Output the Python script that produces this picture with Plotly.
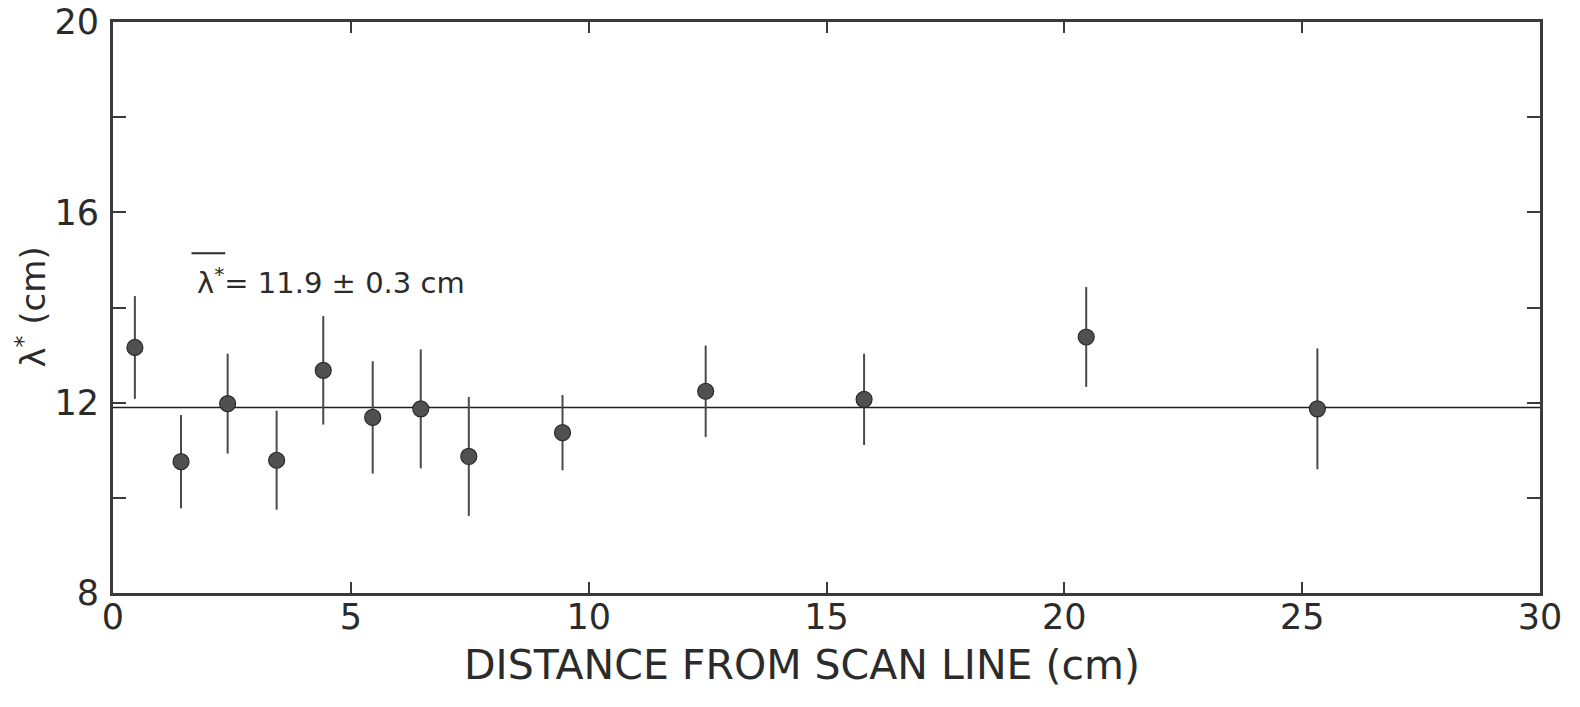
import plotly.graph_objects as go

# Measured wavelength lambda* versus distance from the scan line
distance_cm = [0.46, 1.43, 2.41, 3.44, 4.42, 5.46, 6.47, 7.48, 9.45, 12.46, 15.79, 20.46, 25.32]
lambda_cm = [13.16, 10.76, 11.98, 10.79, 12.68, 11.69, 11.87, 10.87, 11.37, 12.24, 12.07, 13.38, 11.87]
lambda_err = [1.08, 0.98, 1.05, 1.04, 1.14, 1.18, 1.25, 1.25, 0.79, 0.96, 0.96, 1.05, 1.27]

mean_lambda = 11.9
mean_err = 0.3
x_span = [0, 30]

y_tickvals = [8, 12, 16, 20]
y_minor_tickvals = [10, 14, 18]
x_tickvals = [0, 5, 10, 15, 20, 25, 30]

FONT = "DejaVu Sans"
INK = "#2b2b2b"
FRAME = "#3a3a3a"

fig = go.Figure()

# mean value line
fig.add_trace(go.Scatter(
    x=x_span, y=[mean_lambda, mean_lambda],
    mode="lines", line=dict(color="#1e1e1e", width=1.6),
    hoverinfo="skip", showlegend=False,
))

# data points with vertical error bars
fig.add_trace(go.Scatter(
    x=distance_cm, y=lambda_cm,
    mode="markers",
    marker=dict(size=16, color="#505050", line=dict(color="#2a2a2a", width=1.2)),
    error_y=dict(type="data", array=lambda_err, visible=True,
                 color="#4a4a4a", thickness=2, width=0),
    showlegend=False,
))

axis_common = dict(
    showgrid=False, zeroline=False, automargin=False,
    showline=True, linecolor=FRAME, linewidth=3,
    mirror="ticks", ticks="inside", tickcolor=FRAME, tickwidth=2,
    tickfont=dict(family=FONT, size=35, color=INK),
)

fig.update_xaxes(
    range=x_span, tickvals=x_tickvals, ticklen=11,
    ticklabelstandoff=-9, **axis_common,
)
fig.update_yaxes(
    range=[8, 20], tickvals=y_tickvals, ticklen=13,
    minor=dict(tickvals=y_minor_tickvals, ticks="inside", ticklen=13,
               tickwidth=2, tickcolor=FRAME, showgrid=False),
    ticklabelstandoff=4, **axis_common,
)

# axis titles
fig.add_annotation(
    text="DISTANCE FROM SCAN LINE (cm)",
    xref="paper", yref="paper", x=0.483, y=0, yshift=-72,
    xanchor="center", yanchor="middle", showarrow=False,
    font=dict(family=FONT, size=41, color=INK),
)
fig.add_annotation(
    text="λ<sup>*</sup> (cm)",
    xref="paper", yref="paper", x=0, y=0.5, xshift=-83,
    xanchor="center", yanchor="middle", textangle=-90, showarrow=False,
    font=dict(family=FONT, size=34, color=INK),
)

# mean value label with overbar on lambda*
fig.add_annotation(
    text=f"λ<sup>*</sup>= {mean_lambda:.1f} ± {mean_err:.1f} cm",
    xref="x", yref="y", x=1.72, y=14.55,
    xanchor="left", yanchor="middle", showarrow=False,
    font=dict(family=FONT, size=29, color=INK),
)
fig.add_shape(
    type="line", xref="x", yref="y",
    x0=1.65, x1=2.36, y0=15.14, y1=15.14,
    line=dict(color=INK, width=2),
)

fig.update_layout(
    width=1580, height=707,
    margin=dict(l=113, r=40, t=22, b=114),
    paper_bgcolor="white", plot_bgcolor="white",
)

fig.write_html("out.html")
